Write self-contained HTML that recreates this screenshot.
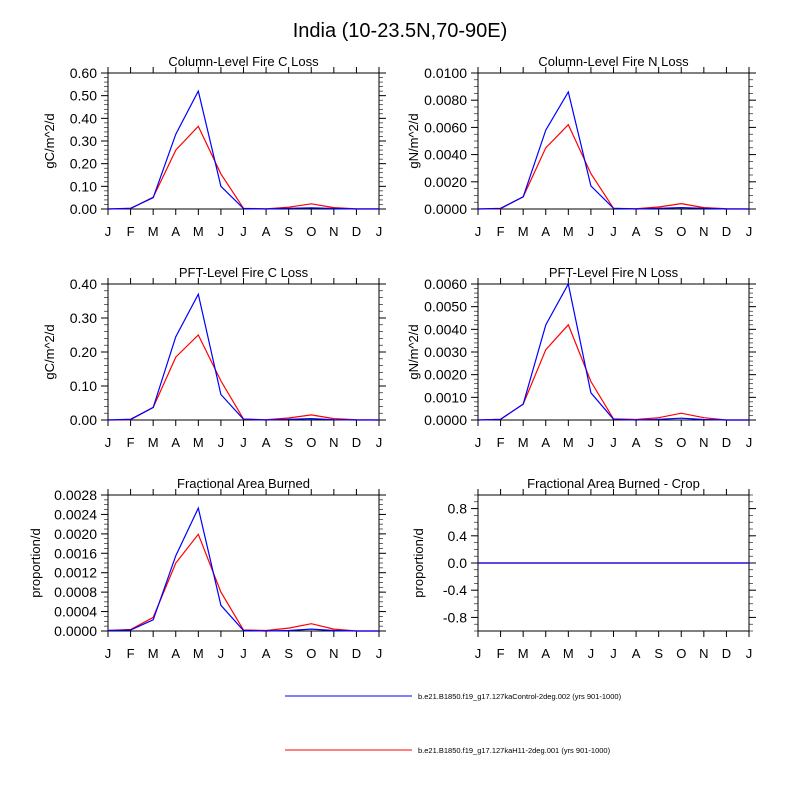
<!DOCTYPE html>
<html><head><meta charset="utf-8"><style>
body{margin:0;background:#fff}
svg{font-family:"Liberation Sans",sans-serif}
</style></head><body>
<svg id="c" width="800" height="800" viewBox="0 0 800 800">
<text x="400" y="37" text-anchor="middle" font-size="20">India (10-23.5N,70-90E)</text>
<g>
<line x1="285" y1="696" x2="412" y2="696" stroke="#00f"/>
<text x="418" y="699" font-size="7.5">b.e21.B1850.f19_g17.127kaControl-2deg.002 (yrs 901-1000)</text>
<line x1="285" y1="750" x2="412" y2="750" stroke="#f00"/>
<text x="418" y="753" font-size="7.5">b.e21.B1850.f19_g17.127kaH11-2deg.001 (yrs 901-1000)</text>
</g>
</svg>
<script>
const months = ["J","F","M","A","M","J","J","A","S","O","N","D","J"];
const colCBlue = [0,0.003,0.05,0.33,0.52,0.10,0.002,0,0.003,0.005,0.002,0,0];
const colCRed = [0,0.002,0.052,0.26,0.365,0.155,0.003,0.001,0.008,0.023,0.006,0.001,0.001];
const colNBlue = [0,0.00005,0.0009,0.0058,0.0086,0.0017,0.00005,0,0.00005,0.0001,0.00005,0,0];
const colNRed = [0,0.00003,0.0009,0.0045,0.0062,0.0026,0.00005,0.00002,0.00015,0.0004,0.0001,0.00002,0];
const pftCBlue = [0,0.002,0.037,0.245,0.37,0.075,0.002,0,0.002,0.004,0.001,0,0];
const pftCRed = [0,0.001,0.037,0.185,0.25,0.115,0.003,0.001,0.006,0.015,0.004,0.001,0];
const pftNBlue = [0,0.00003,0.0007,0.0042,0.006,0.0012,0.00003,0,0.00003,0.00008,0.00002,0,0];
const pftNRed = [0,0.00003,0.0007,0.0031,0.0042,0.0017,0.00005,0.00002,0.0001,0.0003,0.0001,0,0];
const fabBlue = [0.00001,0.00002,0.00023,0.00155,0.00253,0.00053,0.00001,0,0.00001,0.00004,0.00001,0,0];
const fabRed = [0.00001,0.00003,0.00028,0.0014,0.00199,0.0008,0.00002,0.00001,0.00006,0.00015,0.00004,0,0];
const cropBlue = [0,0,0,0,0,0,0,0,0,0,0,0,0];
const cropRed = [0,0,0,0,0,0,0,0,0,0,0,0,0];
const ticksColC = ["0.00","0.10","0.20","0.30","0.40","0.50","0.60"];
const ticksColN = ["0.0000","0.0020","0.0040","0.0060","0.0080","0.0100"];
const ticksPftC = ["0.00","0.10","0.20","0.30","0.40"];
const ticksPftN = ["0.0000","0.0010","0.0020","0.0030","0.0040","0.0050","0.0060"];
const ticksFab = ["0.0000","0.0004","0.0008","0.0012","0.0016","0.0020","0.0024","0.0028"];
const ticksCrop = ["-0.8","-0.4","0.0","0.4","0.8"];

const NS="http://www.w3.org/2000/svg";
const svg=document.getElementById('c');
function mk(tag,attrs,parent){const e=document.createElementNS(NS,tag);for(const k in attrs)e.setAttribute(k,attrs[k]);(parent||svg).appendChild(e);return e;}

const panels=[
 {name:"column-fire-c",title:"Column-Level Fire C Loss",yl:"gC/m^2/d",ylx:-54,x:108,y:73,ymin:0,ymax:0.6,ticks:ticksColC,minor:5,b:colCBlue,r:colCRed},
 {name:"column-fire-n",title:"Column-Level Fire N Loss",yl:"gN/m^2/d",ylx:-60,x:478,y:73,ymin:0,ymax:0.01,ticks:ticksColN,minor:4,b:colNBlue,r:colNRed},
 {name:"pft-fire-c",title:"PFT-Level Fire C Loss",yl:"gC/m^2/d",ylx:-54,x:108,y:284,ymin:0,ymax:0.4,ticks:ticksPftC,minor:5,b:pftCBlue,r:pftCRed},
 {name:"pft-fire-n",title:"PFT-Level Fire N Loss",yl:"gN/m^2/d",ylx:-60,x:478,y:284,ymin:0,ymax:0.006,ticks:ticksPftN,minor:5,b:pftNBlue,r:pftNRed},
 {name:"fractional-area-burned",title:"Fractional Area Burned",yl:"proportion/d",ylx:-68,x:108,y:495,ymin:0,ymax:0.0028,ticks:ticksFab,minor:4,b:fabBlue,r:fabRed},
 {name:"fractional-area-burned-crop",title:"Fractional Area Burned - Crop",yl:"proportion/d",ylx:-55,x:478,y:495,ymin:-1,ymax:1,ticks:ticksCrop,minor:4,b:cropBlue,r:cropRed}
];
const W=271,H=136;
panels.forEach(p=>{
 const g=mk('g',{});
 
 
 const xs=i=>p.x+i*W/12;
 const ys=v=>p.y+H-(v-p.ymin)/(p.ymax-p.ymin)*H;
 const t=mk('text',{x:p.x+W/2,y:p.y-7,'text-anchor':'middle','font-size':13},g);t.textContent=p.title;
 
 
 const yl=mk('text',{transform:`translate(${p.x+p.ylx},${p.y+H/2}) rotate(-90)`,'text-anchor':'middle','font-size':13},g);yl.textContent=p.yl;
 
 
 months.forEach((m,i)=>{
  mk('line',{x1:xs(i),x2:xs(i),y1:p.y+H,y2:p.y+H+6,stroke:'#000'},g);
  mk('line',{x1:xs(i),x2:xs(i),y1:p.y,y2:p.y-6,stroke:'#000'},g);
  const tx=mk('text',{x:xs(i),y:p.y+H+27,'text-anchor':'middle','font-size':13},g);tx.textContent=m;
  
  
 });
 p.ticks.forEach((lab,k)=>{
  const v=parseFloat(lab);const yy=ys(v);
  mk('line',{x1:p.x,x2:p.x-7,y1:yy,y2:yy,stroke:'#000'},g);
  mk('line',{x1:p.x+W,x2:p.x+W+7,y1:yy,y2:yy,stroke:'#000'},g);
  const ty=mk('text',{x:p.x-11,y:yy+5,'text-anchor':'end','font-size':14},g);ty.textContent=lab;
  
  
 });
 const step=(parseFloat(p.ticks[1])-parseFloat(p.ticks[0]))/p.minor;
 for(let v=parseFloat(p.ticks[0])-step*p.minor;v<=p.ymax+1e-12;v+=step){
  if(v<p.ymin-1e-12)continue;const yy=ys(v);
  mk('line',{x1:p.x,x2:p.x-4,y1:yy,y2:yy,stroke:'#000','stroke-width':0.6},g);
  mk('line',{x1:p.x+W,x2:p.x+W+4,y1:yy,y2:yy,stroke:'#000','stroke-width':0.6},g);
 }
 mk('rect',{x:p.x,y:p.y,width:W,height:H,fill:'none',stroke:'#000'},g);
 [['r','#f00'],['b','#00f']].forEach(([k,c])=>{
  const pts=p[k].map((v,i)=>xs(i).toFixed(1)+','+ys(v).toFixed(1)).join(' ');
  const l=mk('polyline',{points:pts,fill:'none',stroke:c,'stroke-width':1.2},g);
  
  
 });
});
</script>
</body></html>
